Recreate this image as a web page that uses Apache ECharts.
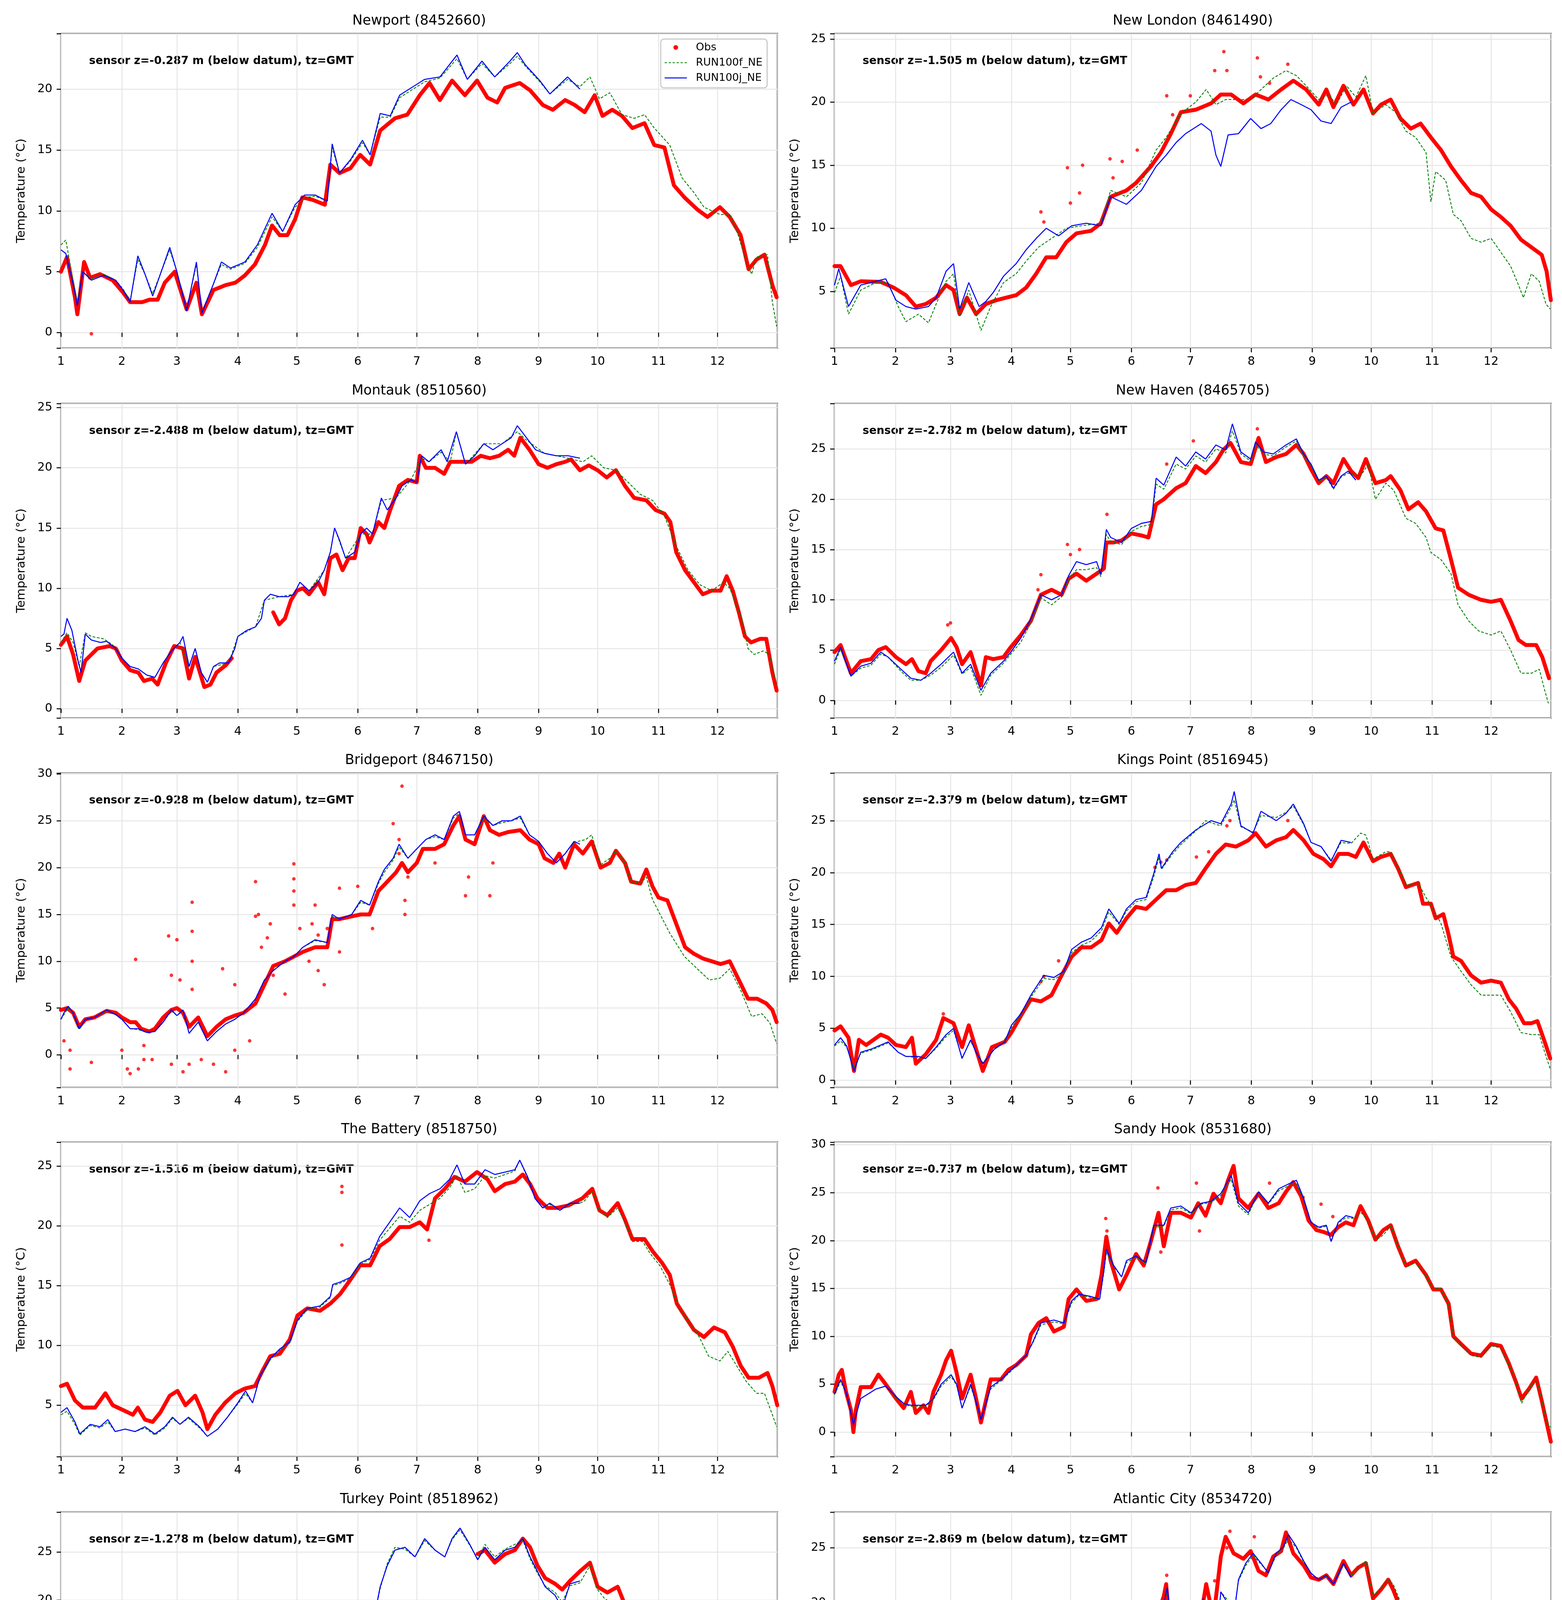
<!DOCTYPE html>
<html><head><meta charset="utf-8">
<script src="https://cdn.jsdelivr.net/npm/echarts@6/dist/echarts.min.js"></script>
<style>html,body{margin:0;padding:0;background:#fff}#chart{width:4000px;height:5000px}</style>
</head><body><div id="chart"></div>
<script>
// ---------------- text ----------------
const TITLES = ['Newport (8452660)','New London (8461490)','Montauk (8510560)','New Haven (8465705)','Bridgeport (8467150)','Kings Point (8516945)','The Battery (8518750)','Sandy Hook (8531680)','Turkey Point (8518962)','Atlantic City (8534720)'];
const SENSOR_Z = ['-0.287','-1.505','-2.488','-2.782','-0.928','-2.379','-1.516','-0.737','-1.278','-2.869'];
const SERIES_NAMES = ['Obs','RUN100f_NE','RUN100j_NE'];
const X_LABEL = 'Month of 2017';
const Y_LABEL = 'Temperature (°C)';
// y-axis extents per panel [min, max]
const Y_MIN = [-1.27, 0.51, -0.77, -1.75, -3.48, -0.69, 0.70, -2.56, -3.5, -0.32];
const Y_MAX = [24.56, 25.43, 25.34, 29.52, 30.1, 29.58, 27.0, 30.27, 29.15, 28.24];

// ---------------- data: [month position (month + fraction of month), temperature °C] ----------------
const NEWPORT_OBS = [[1.0,5.0],[1.1,6.2],[1.23,2.9],[1.27,1.5],[1.38,5.8],[1.48,4.5],[1.64,4.8],[1.85,4.3],[2.02,3.3],[2.15,2.5],[2.37,2.5],[2.5,2.7],[2.65,2.7],[2.78,4.1],[2.96,5.0],[3.16,1.9],[3.32,4.1],[3.41,1.5],[3.6,3.5],[3.8,3.9],[3.96,4.1],[4.12,4.7],[4.29,5.6],[4.46,7.2],[4.58,8.8],[4.71,8.0],[4.84,8.0],[4.97,9.3],[5.09,11.1],[5.26,10.9],[5.46,10.5],[5.55,13.8],[5.7,13.1],[5.88,13.5],[6.04,14.6],[6.21,13.8],[6.38,16.6],[6.63,17.6],[6.84,17.9],[7.05,19.5],[7.21,20.5],[7.38,19.1],[7.58,20.7],[7.79,19.5],[7.99,20.7],[8.16,19.3],[8.32,18.9],[8.45,20.1],[8.69,20.5],[8.86,19.9],[9.07,18.7],[9.24,18.3],[9.45,19.1],[9.61,18.7],[9.78,18.1],[9.95,19.5],[10.08,17.8],[10.24,18.3],[10.4,17.8],[10.57,16.8],[10.77,17.2],[10.93,15.4],[11.1,15.2],[11.26,12.1],[11.44,11.1],[11.66,10.1],[11.83,9.5],[12.04,10.3],[12.2,9.5],[12.38,8.0],[12.51,5.2],[12.64,6.0],[12.77,6.4],[12.9,3.9],[12.97,2.9]];
const NEWPORT_OBS_OUT = [[1.5,-0.1]];
const NEWPORT_F = [[1.0,7.2],[1.08,7.6],[1.2,4.3],[1.27,2.5],[1.36,5.0],[1.5,4.4],[1.7,4.8],[1.9,4.3],[2.02,3.6],[2.15,2.6],[2.29,6.0],[2.42,4.8],[2.56,3.2],[2.87,6.8],[3.0,5.0],[3.16,1.9],[3.32,5.6],[3.41,1.7],[3.6,4.0],[3.73,5.6],[3.88,5.2],[4.12,5.7],[4.33,7.0],[4.58,9.5],[4.76,8.3],[4.97,10.3],[5.13,11.1],[5.3,11.2],[5.5,10.8],[5.58,15.2],[5.7,13.1],[5.88,14.1],[6.08,15.6],[6.21,14.6],[6.38,17.7],[6.55,17.7],[6.71,19.3],[6.97,20.1],[7.13,20.6],[7.38,20.9],[7.66,22.5],[7.83,20.8],[8.07,22.1],[8.28,21.0],[8.53,22.1],[8.65,22.7],[8.78,21.9],[9.02,20.6],[9.19,19.6],[9.49,20.8],[9.7,20.2],[9.87,21.0],[10.03,19.2],[10.2,19.7],[10.4,17.9],[10.6,17.6],[10.77,17.9],[10.93,16.8],[11.19,15.4],[11.4,12.7],[11.6,11.5],[11.77,10.3],[12.04,9.7],[12.2,9.7],[12.34,8.0],[12.47,5.8],[12.56,4.8],[12.64,6.2],[12.82,6.4],[12.9,2.5],[12.97,0.5]];
const NEWPORT_J = [[1.0,6.8],[1.08,6.5],[1.2,4.0],[1.27,2.2],[1.36,5.0],[1.5,4.3],[1.7,4.7],[1.9,4.3],[2.02,3.5],[2.15,2.5],[2.29,6.3],[2.42,4.8],[2.56,3.0],[2.87,7.0],[3.0,5.0],[3.16,1.8],[3.32,5.8],[3.41,1.6],[3.6,4.0],[3.73,5.8],[3.88,5.3],[4.12,5.8],[4.33,7.2],[4.58,9.8],[4.76,8.3],[4.97,10.5],[5.13,11.3],[5.3,11.3],[5.5,10.8],[5.58,15.5],[5.7,13.1],[5.88,14.2],[6.08,15.8],[6.21,14.6],[6.38,18.0],[6.55,17.8],[6.71,19.5],[6.97,20.3],[7.13,20.8],[7.38,21.0],[7.66,22.8],[7.83,20.8],[8.07,22.3],[8.28,21.0],[8.53,22.3],[8.65,23.0],[8.78,22.0],[9.02,20.7],[9.19,19.6],[9.49,21.0],[9.7,20.0]];

const NEWLONDON_OBS = [[1.0,7.0],[1.1,7.0],[1.27,5.5],[1.43,5.8],[1.76,5.75],[1.97,5.3],[2.19,4.7],[2.37,3.8],[2.55,4.0],[2.74,4.5],[2.92,5.5],[3.05,5.1],[3.15,3.2],[3.27,4.5],[3.42,3.2],[3.58,4.0],[3.75,4.3],[3.91,4.5],[4.08,4.7],[4.25,5.3],[4.42,6.4],[4.59,7.7],[4.76,7.7],[4.93,8.9],[5.1,9.6],[5.34,9.8],[5.5,10.4],[5.66,12.5],[5.92,13.0],[6.08,13.6],[6.33,14.9],[6.5,16.0],[6.67,17.5],[6.84,19.2],[7.09,19.4],[7.34,19.9],[7.5,20.6],[7.67,20.6],[7.87,19.9],[8.07,20.6],[8.28,20.2],[8.49,21.0],[8.69,21.7],[8.9,21.0],[9.11,19.8],[9.24,21.0],[9.36,19.6],[9.53,21.3],[9.7,19.8],[9.87,21.0],[10.03,19.1],[10.16,19.8],[10.32,20.2],[10.48,18.7],[10.65,17.9],[10.81,18.3],[10.98,17.2],[11.15,16.2],[11.32,14.9],[11.49,13.8],[11.66,12.8],[11.83,12.5],[12.0,11.5],[12.16,10.9],[12.32,10.2],[12.49,9.1],[12.66,8.5],[12.83,7.9],[12.91,6.6],[12.98,4.3]];
const NEWLONDON_OBS_OUT = [[4.5,11.3],[4.55,10.5],[4.95,14.8],[5.0,12.0],[5.2,15.0],[5.15,12.8],[5.65,15.5],[5.7,14.0],[5.85,15.3],[6.1,16.2],[6.6,20.5],[6.7,19.0],[7.0,20.5],[7.4,22.5],[7.55,24.0],[7.6,22.5],[8.1,23.5],[8.15,22.0],[8.3,21.5],[8.6,23.0]];
const NEWLONDON_F = [[1.0,4.9],[1.1,6.2],[1.23,3.2],[1.43,5.1],[1.68,5.7],[1.88,5.7],[2.05,3.8],[2.19,2.6],[2.42,3.2],[2.6,2.5],[2.74,4.0],[2.92,5.8],[3.05,6.4],[3.15,3.0],[3.3,5.1],[3.5,1.9],[3.66,3.8],[3.87,5.7],[4.08,6.4],[4.25,7.4],[4.46,8.5],[4.68,9.2],[4.93,10.0],[5.18,10.2],[5.5,10.4],[5.66,13.0],[5.92,12.5],[6.17,13.6],[6.42,16.2],[6.59,17.2],[6.84,19.1],[7.09,20.0],[7.26,21.0],[7.42,19.8],[7.58,20.2],[7.83,20.2],[7.99,20.2],[8.16,21.0],[8.36,21.9],[8.57,22.5],[8.74,22.1],[8.9,21.3],[9.11,20.2],[9.28,20.6],[9.41,19.8],[9.58,21.3],[9.74,20.4],[9.91,22.1],[10.03,19.1],[10.24,19.8],[10.4,19.2],[10.57,17.7],[10.73,17.2],[10.9,16.0],[10.98,12.1],[11.06,14.5],[11.23,13.8],[11.36,11.1],[11.49,10.6],[11.66,9.2],[11.83,8.9],[12.0,9.2],[12.16,8.1],[12.32,7.0],[12.45,5.5],[12.53,4.5],[12.66,6.4],[12.79,5.8],[12.9,4.0],[12.97,3.6]];
const NEWLONDON_J = [[1.0,5.5],[1.07,6.8],[1.23,3.8],[1.43,5.5],[1.68,5.8],[1.84,6.0],[2.01,4.3],[2.19,3.8],[2.37,3.6],[2.6,3.8],[2.74,4.5],[2.92,6.6],[3.05,7.2],[3.15,3.6],[3.3,5.7],[3.47,3.8],[3.58,4.2],[3.7,4.9],[3.87,6.2],[4.08,7.2],[4.25,8.3],[4.42,9.2],[4.59,10.0],[4.8,9.4],[5.02,10.2],[5.26,10.4],[5.5,10.2],[5.66,12.5],[5.92,11.9],[6.17,13.0],[6.42,14.9],[6.59,15.8],[6.76,16.8],[6.92,17.5],[7.18,18.3],[7.34,17.7],[7.42,15.8],[7.5,14.9],[7.62,17.4],[7.79,17.5],[7.99,18.7],[8.16,17.9],[8.32,18.3],[8.49,19.4],[8.65,20.2],[8.82,19.8],[8.98,19.4],[9.15,18.5],[9.32,18.3],[9.49,19.6],[9.66,20.0]];

const MONTAUK_OBS = [[1.0,5.3],[1.1,6.0],[1.2,4.5],[1.3,2.3],[1.4,4.0],[1.5,4.5],[1.6,5.0],[1.8,5.2],[1.9,5.0],[2.0,4.0],[2.15,3.2],[2.3,3.0],[2.4,2.3],[2.55,2.5],[2.65,2.0],[2.8,3.8],[2.95,5.2],[3.1,5.0],[3.2,2.5],[3.3,4.3],[3.45,1.8],[3.55,2.0],[3.65,3.0],[3.8,3.6],[3.9,4.2],[4.25,null],[4.6,8.0],[4.7,7.0],[4.8,7.5],[4.9,9.0],[5.0,9.8],[5.1,10.0],[5.2,9.5],[5.35,10.5],[5.45,9.5],[5.55,12.5],[5.65,12.8],[5.75,11.5],[5.85,12.5],[5.95,12.5],[6.05,15.0],[6.15,14.5],[6.2,13.8],[6.35,15.5],[6.45,15.0],[6.55,16.5],[6.7,18.5],[6.85,19.0],[7.0,18.8],[7.05,21.0],[7.15,20.0],[7.3,20.0],[7.45,19.5],[7.55,20.5],[7.7,20.5],[7.9,20.5],[8.05,21.0],[8.2,20.8],[8.35,21.0],[8.5,21.5],[8.6,21.0],[8.7,22.5],[8.85,21.5],[9.0,20.3],[9.15,20.0],[9.3,20.3],[9.45,20.5],[9.55,20.7],[9.7,19.8],[9.85,20.2],[10.0,19.8],[10.15,19.2],[10.3,19.8],[10.45,18.5],[10.6,17.5],[10.8,17.3],[10.95,16.5],[11.1,16.2],[11.2,15.5],[11.3,13.0],[11.45,11.5],[11.6,10.5],[11.75,9.5],[11.9,9.8],[12.05,9.8],[12.15,11.0],[12.25,9.8],[12.35,8.0],[12.45,6.0],[12.55,5.5],[12.7,5.8],[12.8,5.8],[12.9,3.0],[12.97,1.5]];
const MONTAUK_F = [[1.0,5.5],[1.1,6.3],[1.2,5.5],[1.3,3.5],[1.4,6.3],[1.5,6.0],[1.7,5.8],[1.85,5.3],[2.0,4.2],[2.15,3.5],[2.3,3.3],[2.45,2.8],[2.6,2.6],[2.75,3.8],[2.9,4.8],[3.05,5.5],[3.2,3.5],[3.3,5.0],[3.4,3.0],[3.5,2.2],[3.6,3.5],[3.85,3.8],[4.0,6.0],[4.3,6.8],[4.45,9.0],[4.7,9.3],[4.95,9.5],[5.05,10.5],[5.2,9.8],[5.45,11.5],[5.55,13.0],[5.62,15.0],[5.8,12.5],[6.05,14.5],[6.25,14.5],[6.4,17.3],[6.65,17.5],[6.9,19.0],[7.08,20.8],[7.2,20.5],[7.4,21.3],[7.55,20.5],[7.65,23.0],[7.8,20.3],[8.1,22.0],[8.4,22.0],[8.65,23.0],[8.8,22.3],[9.1,21.2],[9.5,20.8],[9.75,20.5],[9.9,21.0],[10.1,20.0],[10.3,19.8],[10.5,18.8],[10.7,17.8],[10.9,17.3],[11.1,16.0],[11.3,13.5],[11.5,11.5],[11.7,10.3],[11.9,9.8],[12.1,10.5],[12.2,10.0],[12.4,7.5],[12.5,5.0],[12.6,4.5],[12.75,4.8],[12.85,4.5],[12.97,2.0]];
const MONTAUK_J = [[1.0,6.0],[1.05,6.2],[1.1,7.5],[1.18,6.5],[1.28,4.0],[1.33,3.0],[1.4,6.2],[1.5,5.7],[1.65,5.5],[1.75,5.6],[1.9,5.0],[2.0,4.2],[2.15,3.5],[2.3,3.3],[2.45,2.8],[2.6,2.6],[2.75,3.8],[2.9,4.8],[3.05,5.5],[3.1,6.0],[3.2,3.5],[3.3,5.0],[3.4,3.0],[3.5,2.2],[3.6,3.5],[3.7,3.8],[3.85,3.8],[3.95,5.0],[4.0,6.0],[4.15,6.5],[4.3,6.8],[4.4,7.5],[4.45,9.0],[4.55,9.5],[4.7,9.3],[4.85,9.3],[4.95,9.5],[5.05,10.5],[5.2,9.8],[5.35,10.5],[5.45,11.5],[5.55,13.0],[5.62,15.0],[5.7,14.0],[5.8,12.5],[5.95,13.0],[6.05,14.5],[6.15,15.0],[6.25,14.5],[6.4,17.5],[6.5,16.5],[6.65,17.5],[6.75,18.5],[6.9,19.0],[7.0,18.8],[7.08,21.0],[7.2,20.5],[7.4,21.5],[7.5,20.5],[7.65,23.0],[7.8,20.3],[7.95,21.0],[8.1,22.0],[8.25,21.5],[8.4,22.0],[8.55,22.5],[8.65,23.5],[8.8,22.5],[8.95,21.5],[9.1,21.2],[9.3,21.0],[9.5,21.0],[9.7,20.8]];

const NEWHAVEN_OBS = [[1.0,4.8],[1.1,5.5],[1.27,2.7],[1.43,3.9],[1.6,4.1],[1.72,5.0],[1.84,5.3],[2.01,4.3],[2.19,3.6],[2.3,4.1],[2.42,2.9],[2.55,2.7],[2.64,3.9],[2.83,5.0],[3.01,6.2],[3.1,5.3],[3.19,3.6],[3.33,4.8],[3.5,1.5],[3.58,4.3],[3.7,4.1],[3.87,4.3],[3.99,5.3],[4.16,6.5],[4.33,7.9],[4.5,10.5],[4.68,11.0],[4.85,10.5],[4.97,12.1],[5.1,12.6],[5.26,11.9],[5.43,12.6],[5.55,13.1],[5.59,15.7],[5.71,15.7],[5.84,15.9],[6.0,16.6],[6.17,16.4],[6.29,16.2],[6.42,19.5],[6.55,20.0],[6.76,21.1],[6.92,21.6],[7.09,23.3],[7.25,22.6],[7.42,23.7],[7.54,24.9],[7.66,25.6],[7.83,23.7],[7.99,23.5],[8.12,26.1],[8.24,23.7],[8.41,24.2],[8.57,24.5],[8.74,25.4],[8.86,24.5],[8.98,23.0],[9.11,21.6],[9.24,22.3],[9.36,21.6],[9.53,24.0],[9.66,22.8],[9.78,22.1],[9.91,24.0],[10.07,21.6],[10.24,21.9],[10.32,22.3],[10.48,20.9],[10.61,19.0],[10.77,19.7],[10.9,18.8],[11.06,17.1],[11.19,16.9],[11.32,14.0],[11.44,11.2],[11.62,10.5],[11.83,10.0],[12.0,9.8],[12.16,10.0],[12.32,7.9],[12.45,6.0],[12.57,5.5],[12.74,5.5],[12.84,4.3],[12.95,2.2]];
const NEWHAVEN_OBS_OUT = [[4.5,12.5],[4.45,11.0],[4.95,15.5],[5.0,14.5],[5.15,15.0],[5.6,18.5],[6.6,23.5],[7.05,25.8],[8.1,27.0],[3.0,7.7],[2.95,7.5]];
const NEWHAVEN_F = [[1.0,3.6],[1.1,5.1],[1.27,2.4],[1.43,3.2],[1.6,3.5],[1.76,4.6],[1.88,4.3],[2.1,2.9],[2.28,2.0],[2.46,2.0],[2.64,2.5],[2.83,3.3],[3.05,4.5],[3.19,2.6],[3.33,3.3],[3.5,0.5],[3.66,2.5],[3.87,3.7],[3.99,4.6],[4.16,5.8],[4.33,7.7],[4.5,10.2],[4.68,9.5],[4.85,10.3],[4.97,12.0],[5.1,13.0],[5.26,13.0],[5.43,13.2],[5.5,12.3],[5.59,16.5],[5.66,15.8],[5.84,15.5],[6.0,16.8],[6.17,17.3],[6.34,17.5],[6.42,21.5],[6.55,21.0],[6.76,23.5],[6.92,23.0],[7.09,24.3],[7.25,23.7],[7.42,25.0],[7.58,24.6],[7.69,26.8],[7.83,24.5],[7.99,23.8],[8.07,25.5],[8.2,24.5],[8.36,24.3],[8.57,25.2],[8.74,25.8],[8.86,24.3],[8.98,23.3],[9.11,21.8],[9.24,22.2],[9.36,21.0],[9.49,22.2],[9.61,22.6],[9.82,22.3],[9.95,23.5],[10.07,20.0],[10.24,21.6],[10.37,20.9],[10.57,18.1],[10.73,17.6],[10.9,16.2],[10.98,14.7],[11.15,14.0],[11.32,12.6],[11.44,9.5],[11.62,7.9],[11.79,6.9],[12.0,6.5],[12.16,6.9],[12.32,5.0],[12.49,2.7],[12.66,2.7],[12.79,3.1],[12.88,1.0],[12.94,-0.3]];
const NEWHAVEN_J = [[1.0,3.9],[1.1,5.3],[1.27,2.4],[1.43,3.4],[1.6,3.7],[1.76,4.8],[1.88,4.3],[2.1,3.1],[2.28,2.2],[2.46,2.0],[2.64,2.7],[2.83,3.6],[3.05,4.8],[3.19,2.7],[3.33,3.6],[3.5,1.0],[3.66,2.7],[3.87,3.9],[3.99,4.8],[4.16,6.2],[4.33,8.1],[4.5,10.5],[4.68,10.0],[4.85,10.5],[4.97,12.4],[5.1,13.8],[5.26,13.5],[5.43,13.8],[5.5,12.5],[5.59,17.0],[5.66,16.2],[5.84,15.7],[6.0,17.1],[6.17,17.6],[6.34,17.8],[6.42,22.1],[6.55,21.4],[6.76,24.2],[6.92,23.3],[7.09,24.7],[7.25,24.0],[7.42,25.4],[7.58,24.9],[7.69,27.5],[7.83,24.7],[7.99,24.0],[8.07,25.7],[8.2,24.7],[8.36,24.5],[8.57,25.4],[8.74,26.0],[8.86,24.5],[8.98,23.5],[9.11,21.9],[9.24,22.3],[9.36,21.1],[9.49,22.3],[9.61,22.8],[9.74,21.9]];

const BRIDGEPORT_OBS = [[1.0,4.8],[1.1,5.0],[1.2,4.5],[1.3,3.0],[1.4,3.8],[1.55,4.0],[1.75,4.7],[1.9,4.5],[2.0,4.0],[2.15,3.5],[2.25,3.5],[2.35,2.8],[2.5,2.5],[2.6,2.8],[2.75,4.0],[2.9,4.8],[3.0,5.0],[3.1,4.5],[3.2,3.0],[3.35,4.0],[3.5,2.0],[3.65,3.0],[3.8,3.8],[3.95,4.2],[4.1,4.5],[4.3,5.5],[4.45,7.5],[4.6,9.5],[4.8,10.0],[4.95,10.5],[5.1,11.0],[5.3,11.5],[5.5,11.5],[5.58,14.5],[5.7,14.5],[5.9,14.8],[6.05,15.0],[6.2,15.0],[6.35,17.5],[6.5,18.5],[6.65,19.5],[6.75,20.5],[6.85,19.5],[7.0,20.5],[7.1,22.0],[7.3,22.0],[7.45,22.5],[7.6,24.5],[7.7,25.5],[7.8,23.0],[7.95,22.5],[8.1,25.5],[8.2,24.0],[8.35,23.5],[8.5,23.8],[8.7,24.0],[8.85,23.0],[9.0,22.5],[9.1,21.0],[9.25,20.5],[9.35,21.5],[9.45,20.0],[9.6,22.5],[9.75,21.5],[9.9,22.8],[10.05,20.0],[10.2,20.5],[10.3,21.8],[10.45,20.5],[10.55,18.5],[10.7,18.3],[10.8,19.8],[10.9,18.0],[11.0,16.8],[11.15,16.5],[11.3,14.0],[11.45,11.5],[11.6,10.8],[11.75,10.3],[11.9,10.0],[12.05,9.7],[12.2,10.0],[12.35,8.0],[12.5,6.0],[12.65,6.0],[12.8,5.5],[12.9,4.8],[12.97,3.5]];
const BRIDGEPORT_OBS_OUT = [[1.05,1.5],[1.15,-1.5],[1.15,0.5],[1.5,-0.8],[2.0,0.5],[2.1,-1.5],[2.15,-2.0],[2.25,10.2],[2.3,-1.5],[2.4,-0.5],[2.4,1.0],[2.55,-0.5],[2.85,12.7],[2.9,8.5],[2.9,-1.0],[3.0,12.3],[3.05,8.0],[3.1,-1.8],[3.25,16.3],[3.25,13.2],[3.25,10.0],[3.25,7.0],[3.2,-1.0],[3.4,-0.5],[3.6,-1.0],[3.75,9.2],[3.8,-1.8],[3.95,0.5],[3.95,7.5],[4.2,1.5],[4.3,18.5],[4.3,14.8],[4.35,15.0],[4.4,11.5],[4.5,12.5],[4.55,14.0],[4.6,8.5],[4.8,6.5],[4.95,20.4],[4.95,18.8],[4.95,17.5],[4.95,16.0],[5.05,13.5],[5.25,14.0],[5.2,10.0],[5.3,16.0],[5.35,9.0],[5.35,12.8],[5.45,7.5],[5.5,13.5],[5.7,17.8],[5.7,11.0],[6.0,18.0],[6.25,13.5],[6.6,24.7],[6.7,23.0],[6.7,21.5],[6.75,28.7],[6.8,15.0],[6.8,16.5],[6.85,19.0],[7.3,20.5],[7.8,17.0],[7.85,19.0],[8.2,17.0],[8.25,20.5]];
const BRIDGEPORT_F = [[1.0,3.8],[1.12,5.0],[1.2,4.4],[1.3,2.7],[1.4,3.8],[1.55,4.0],[1.75,4.7],[1.9,4.3],[2.0,3.8],[2.15,2.8],[2.3,2.7],[2.45,2.4],[2.6,2.5],[2.75,3.5],[2.9,4.7],[3.0,4.2],[3.1,4.7],[3.2,2.3],[3.35,3.5],[3.5,1.5],[3.65,2.5],[3.8,3.3],[3.95,3.8],[4.1,4.5],[4.3,6.0],[4.45,8.0],[4.6,9.0],[4.8,10.0],[4.95,10.5],[5.1,11.5],[5.3,12.2],[5.5,12.0],[5.58,14.8],[5.7,14.5],[5.9,15.0],[6.05,16.3],[6.2,16.0],[6.35,18.3],[6.45,19.5],[6.6,20.8],[6.7,22.2],[6.85,21.0],[7.0,22.0],[7.15,23.0],[7.3,23.3],[7.45,23.0],[7.6,25.3],[7.7,25.8],[7.8,23.5],[7.95,23.5],[8.1,25.3],[8.25,24.5],[8.4,24.8],[8.55,25.0],[8.7,25.3],[8.85,23.5],[9.0,22.8],[9.15,21.5],[9.3,20.5],[9.45,21.5],[9.6,22.7],[9.8,23.0],[9.9,23.5],[10.05,20.3],[10.2,21.0],[10.3,21.8],[10.45,20.5],[10.55,18.5],[10.7,18.3],[10.8,19.0],[10.9,16.6],[11.19,13.0],[11.44,10.5],[11.69,9.0],[11.86,8.0],[12.04,8.2],[12.2,9.2],[12.38,6.9],[12.56,4.1],[12.73,4.4],[12.86,3.4],[12.97,1.2]];
const BRIDGEPORT_J = [[1.0,3.8],[1.05,4.5],[1.12,5.2],[1.2,4.5],[1.3,2.8],[1.4,3.8],[1.55,4.0],[1.75,4.8],[1.9,4.3],[2.0,3.8],[2.15,2.8],[2.3,2.8],[2.45,2.4],[2.6,2.5],[2.75,3.5],[2.9,4.8],[3.0,4.2],[3.1,4.8],[3.2,2.3],[3.35,3.5],[3.5,1.5],[3.65,2.5],[3.8,3.3],[3.95,3.8],[4.1,4.5],[4.3,6.0],[4.45,8.0],[4.6,9.0],[4.8,10.0],[4.95,10.5],[5.1,11.5],[5.3,12.3],[5.5,12.0],[5.58,15.0],[5.7,14.5],[5.9,15.0],[6.05,16.5],[6.2,16.0],[6.35,18.5],[6.45,19.8],[6.6,21.0],[6.7,22.5],[6.85,21.0],[7.0,22.0],[7.15,23.0],[7.3,23.5],[7.45,23.0],[7.6,25.5],[7.7,26.0],[7.8,23.5],[7.95,23.5],[8.1,25.5],[8.25,24.5],[8.4,25.0],[8.55,25.0],[8.7,25.5],[8.85,23.5],[9.0,22.8],[9.15,21.5],[9.3,20.5],[9.45,21.5],[9.6,22.8],[9.7,22.5]];

const KINGS_OBS = [[1.0,4.8],[1.1,5.2],[1.23,4.1],[1.32,0.9],[1.4,3.9],[1.52,3.4],[1.64,3.9],[1.76,4.4],[1.88,4.1],[2.01,3.4],[2.19,3.2],[2.3,4.1],[2.37,1.6],[2.55,2.5],[2.74,3.9],[2.87,6.0],[3.05,5.5],[3.19,3.2],[3.3,5.3],[3.42,3.0],[3.53,0.9],[3.68,3.2],[3.89,3.7],[4.0,4.6],[4.16,6.2],[4.33,7.8],[4.5,7.6],[4.68,8.2],[4.85,10.1],[5.02,11.9],[5.18,12.8],[5.34,12.8],[5.51,13.5],[5.63,15.1],[5.76,14.2],[5.92,15.6],[6.08,16.7],[6.25,16.5],[6.42,17.4],[6.59,18.3],[6.76,18.3],[6.92,18.8],[7.09,19.0],[7.25,20.4],[7.42,21.8],[7.58,22.7],[7.75,22.5],[7.95,23.1],[8.07,23.8],[8.24,22.5],[8.41,23.1],[8.57,23.4],[8.69,24.1],[8.86,23.1],[9.02,21.8],[9.19,21.3],[9.32,20.6],[9.45,21.8],[9.61,21.8],[9.74,21.5],[9.87,22.9],[10.03,21.1],[10.16,21.5],[10.32,21.8],[10.44,20.4],[10.57,18.6],[10.77,19.0],[10.85,17.0],[10.98,17.0],[11.06,15.6],[11.19,16.0],[11.28,14.0],[11.36,11.9],[11.49,11.5],[11.66,10.1],[11.83,9.4],[12.0,9.6],[12.16,9.4],[12.29,7.8],[12.41,6.9],[12.54,5.5],[12.66,5.5],[12.76,5.7],[12.88,3.7],[12.97,2.1]];
const KINGS_OBS_OUT = [[6.4,20.5],[6.5,21.0],[6.6,21.2],[7.1,21.5],[7.3,22.0],[7.6,24.5],[7.65,25.0],[8.6,25.0],[4.5,9.5],[4.55,10.0],[4.8,11.5],[2.87,6.4]];
const KINGS_F = [[1.0,3.3],[1.1,3.8],[1.2,3.2],[1.32,1.2],[1.43,2.6],[1.6,2.9],[1.76,3.3],[1.88,3.6],[2.05,2.7],[2.19,2.3],[2.42,2.2],[2.55,2.1],[2.74,3.1],[2.92,4.2],[3.05,4.8],[3.19,2.2],[3.33,3.8],[3.42,2.7],[3.53,1.7],[3.72,3.0],[3.89,3.6],[4.0,5.1],[4.16,6.2],[4.33,8.0],[4.55,9.8],[4.72,9.7],[4.89,10.3],[5.02,12.3],[5.18,13.0],[5.34,13.4],[5.51,14.4],[5.63,16.2],[5.8,15.0],[5.92,16.3],[6.08,17.2],[6.25,17.4],[6.38,19.6],[6.47,21.5],[6.51,20.3],[6.7,21.8],[6.84,22.7],[7.09,24.0],[7.25,25.0],[7.34,24.8],[7.5,24.5],[7.67,26.3],[7.72,27.0],[7.83,24.4],[8.03,23.9],[8.16,25.5],[8.41,25.3],[8.57,25.8],[8.69,26.4],[8.86,24.6],[8.98,22.9],[9.15,22.5],[9.32,21.2],[9.49,22.9],[9.66,22.8],[9.82,23.8],[9.91,23.6],[10.03,21.3],[10.24,22.0],[10.32,22.0],[10.44,20.6],[10.57,18.8],[10.77,19.0],[10.9,17.6],[11.02,16.5],[11.15,15.1],[11.32,11.9],[11.49,10.5],[11.66,9.2],[11.83,8.2],[12.0,8.2],[12.16,8.2],[12.32,6.6],[12.49,4.6],[12.66,4.4],[12.79,4.4],[12.88,2.7],[12.97,1.1]];
const KINGS_J = [[1.0,3.4],[1.1,4.1],[1.2,3.3],[1.32,0.9],[1.43,2.7],[1.6,3.0],[1.76,3.4],[1.88,3.7],[2.05,2.7],[2.19,2.3],[2.42,2.3],[2.55,2.1],[2.74,3.2],[2.92,4.4],[3.05,5.0],[3.19,2.1],[3.33,3.9],[3.42,2.7],[3.53,1.6],[3.72,3.0],[3.89,3.7],[4.0,5.3],[4.16,6.4],[4.33,8.2],[4.55,10.1],[4.72,9.9],[4.89,10.5],[5.02,12.6],[5.18,13.3],[5.34,13.7],[5.51,14.7],[5.63,16.5],[5.8,15.1],[5.92,16.5],[6.08,17.4],[6.25,17.6],[6.38,19.9],[6.47,21.8],[6.51,20.4],[6.7,22.0],[6.84,22.9],[7.09,24.1],[7.34,25.0],[7.5,24.7],[7.67,26.6],[7.72,27.8],[7.83,24.5],[8.03,23.8],[8.16,25.9],[8.41,25.0],[8.57,25.7],[8.69,26.6],[8.86,24.7],[8.98,22.9],[9.15,22.5],[9.32,21.1],[9.49,23.1],[9.66,22.9]];

const BATTERY_OBS = [[1.0,6.6],[1.1,6.8],[1.23,5.4],[1.36,4.8],[1.56,4.8],[1.73,6.0],[1.85,5.0],[2.02,4.6],[2.2,4.2],[2.29,4.8],[2.42,3.8],[2.56,3.6],[2.7,4.4],[2.87,5.8],[3.01,6.2],[3.14,5.0],[3.3,5.8],[3.42,4.4],[3.5,3.0],[3.63,4.2],[3.79,5.2],[3.96,6.0],[4.12,6.4],[4.29,6.6],[4.42,7.9],[4.55,9.1],[4.71,9.3],[4.88,10.5],[5.01,12.5],[5.17,13.1],[5.38,12.9],[5.55,13.5],[5.71,14.3],[5.88,15.5],[6.04,16.7],[6.21,16.7],[6.37,18.3],[6.54,18.9],[6.71,19.9],[6.88,19.9],[7.05,20.3],[7.17,19.7],[7.3,22.3],[7.46,23.1],[7.62,24.1],[7.79,23.7],[7.99,24.5],[8.16,23.9],[8.28,22.9],[8.45,23.5],[8.61,23.7],[8.74,24.3],[8.86,23.5],[8.98,22.3],[9.15,21.5],[9.3,21.5],[9.5,21.7],[9.74,22.3],[9.91,23.1],[10.03,21.3],[10.16,20.9],[10.33,21.9],[10.45,20.5],[10.57,18.9],[10.77,18.9],[10.9,17.9],[11.06,16.9],[11.19,15.9],[11.31,13.5],[11.44,12.5],[11.6,11.3],[11.77,10.7],[11.94,11.5],[12.12,11.1],[12.25,9.9],[12.38,8.3],[12.51,7.3],[12.68,7.3],[12.82,7.7],[12.9,6.6],[12.98,5.0]];
const BATTERY_OBS_OUT = [[5.74,23.3],[5.74,22.8],[5.74,18.4],[7.2,18.8]];
const BATTERY_F = [[1.0,4.2],[1.1,4.5],[1.23,3.4],[1.31,2.5],[1.48,3.3],[1.64,3.1],[1.77,3.6],[1.89,2.8],[2.06,3.0],[2.24,2.8],[2.42,3.1],[2.6,2.5],[2.78,3.1],[2.92,3.9],[3.05,3.4],[3.19,3.9],[3.37,3.1],[3.5,2.4],[3.67,3.0],[3.83,4.0],[4.0,5.1],[4.13,6.0],[4.25,5.2],[4.38,7.4],[4.55,8.8],[4.71,9.6],[4.88,10.2],[5.01,12.0],[5.17,13.0],[5.38,13.2],[5.55,14.0],[5.59,15.0],[5.71,15.2],[5.88,15.6],[6.04,16.8],[6.21,17.2],[6.37,18.8],[6.54,19.8],[6.71,20.8],[6.88,20.3],[7.05,21.3],[7.21,21.8],[7.38,22.3],[7.54,23.2],[7.66,24.2],[7.79,22.8],[7.95,23.1],[8.12,24.2],[8.28,24.0],[8.45,24.3],[8.61,24.6],[8.69,25.5],[8.82,24.0],[8.94,22.3],[9.07,21.5],[9.19,21.8],[9.36,21.3],[9.53,21.8],[9.7,21.9],[9.78,22.1],[9.91,22.9],[10.03,21.3],[10.16,20.7],[10.33,21.5],[10.45,20.3],[10.57,18.7],[10.74,18.7],[10.86,17.7],[11.02,16.7],[11.19,15.1],[11.35,13.1],[11.52,11.9],[11.69,10.7],[11.85,9.1],[12.04,8.7],[12.17,9.5],[12.29,8.5],[12.47,7.0],[12.64,6.0],[12.77,6.0],[12.9,4.2],[12.97,3.2]];
const BATTERY_J = [[1.0,4.4],[1.1,4.8],[1.23,3.6],[1.31,2.6],[1.48,3.4],[1.64,3.2],[1.77,3.8],[1.89,2.8],[2.06,3.0],[2.24,2.8],[2.42,3.2],[2.6,2.6],[2.78,3.2],[2.92,4.0],[3.05,3.4],[3.19,4.0],[3.37,3.2],[3.5,2.4],[3.67,3.0],[3.83,4.0],[4.0,5.2],[4.13,6.2],[4.25,5.2],[4.38,7.5],[4.55,8.9],[4.71,9.7],[4.88,10.3],[5.01,12.1],[5.17,13.1],[5.38,13.3],[5.55,14.1],[5.59,15.1],[5.71,15.3],[5.88,15.7],[6.04,16.9],[6.21,17.3],[6.37,19.1],[6.54,20.3],[6.71,21.5],[6.88,20.7],[7.05,22.1],[7.21,22.7],[7.38,23.1],[7.54,23.9],[7.66,25.1],[7.79,23.5],[7.95,23.5],[8.12,24.7],[8.28,24.3],[8.45,24.5],[8.61,24.7],[8.69,25.5],[8.82,24.1],[8.94,22.3],[9.07,21.5],[9.19,21.9],[9.36,21.3],[9.53,21.9],[9.7,21.9]];

const SANDY_OBS = [[1.0,4.2],[1.07,6.0],[1.12,6.5],[1.19,4.2],[1.27,2.3],[1.31,0.0],[1.35,2.3],[1.43,4.7],[1.6,4.7],[1.72,6.0],[1.84,5.0],[2.01,3.5],[2.15,2.5],[2.28,4.2],[2.37,2.0],[2.51,2.8],[2.6,2.0],[2.69,4.2],[2.83,6.0],[2.92,7.5],[3.01,8.5],[3.1,6.2],[3.19,3.5],[3.33,6.0],[3.42,3.5],[3.5,1.0],[3.66,5.5],[3.83,5.5],[3.95,6.5],[4.08,7.0],[4.25,8.0],[4.33,10.2],[4.46,11.4],[4.59,11.9],[4.72,10.5],[4.89,11.0],[4.97,13.9],[5.1,14.9],[5.26,13.7],[5.43,13.9],[5.51,16.4],[5.59,20.4],[5.66,17.9],[5.8,14.9],[5.92,16.4],[6.08,18.6],[6.21,17.4],[6.33,19.9],[6.46,22.9],[6.55,19.4],[6.67,22.9],[6.84,22.9],[7.01,22.4],[7.13,23.9],[7.25,22.6],[7.38,24.9],[7.5,23.9],[7.62,26.3],[7.71,27.8],[7.79,24.4],[7.95,23.4],[8.12,24.9],[8.28,23.4],[8.45,23.9],[8.57,25.1],[8.69,26.1],[8.82,24.6],[8.94,22.1],[9.07,21.1],[9.19,20.9],[9.32,20.6],[9.44,21.4],[9.57,21.9],[9.7,21.6],[9.82,23.6],[9.95,22.1],[10.07,20.1],[10.2,21.1],[10.32,21.6],[10.44,19.4],[10.57,17.4],[10.73,17.9],[10.9,16.4],[11.02,14.9],[11.15,14.9],[11.28,13.4],[11.36,10.0],[11.49,9.2],[11.66,8.2],[11.83,8.0],[12.0,9.2],[12.16,9.0],[12.29,7.2],[12.41,5.2],[12.5,3.5],[12.62,4.5],[12.74,5.7],[12.83,3.3],[12.91,1.0],[12.98,-1.0]];
const SANDY_OBS_OUT = [[5.58,22.3],[5.6,21.0],[6.45,25.5],[7.1,26.0],[8.3,26.0],[8.85,24.5],[9.15,23.8],[9.35,22.5],[6.5,18.8],[7.15,21.0]];
const SANDY_F = [[1.0,3.9],[1.1,5.3],[1.2,3.9],[1.31,0.9],[1.43,3.5],[1.68,4.5],[1.84,4.8],[2.01,3.6],[2.15,2.9],[2.28,2.7],[2.55,2.7],[2.69,3.4],[2.83,4.8],[3.01,5.8],[3.1,4.9],[3.19,2.5],[3.33,4.8],[3.46,2.3],[3.5,1.4],[3.66,4.5],[3.83,5.4],[4.0,6.4],[4.25,8.0],[4.37,9.4],[4.5,11.2],[4.72,11.5],[4.89,11.3],[5.02,13.5],[5.14,14.3],[5.31,14.1],[5.48,13.8],[5.55,16.7],[5.59,18.8],[5.71,17.3],[5.84,16.2],[5.92,17.7],[6.08,18.3],[6.25,17.6],[6.38,21.4],[6.55,21.5],[6.67,23.2],[6.84,23.4],[7.01,22.8],[7.18,23.8],[7.34,24.0],[7.5,24.7],[7.67,26.4],[7.79,23.6],[7.95,22.7],[8.12,25.0],[8.28,23.8],[8.45,25.2],[8.61,25.7],[8.74,26.0],[8.86,24.2],[8.98,21.9],[9.11,21.3],[9.24,21.5],[9.32,20.0],[9.44,21.8],[9.57,22.4],[9.7,22.3],[9.82,23.0],[9.95,22.0],[10.07,20.0],[10.2,20.6],[10.32,21.5],[10.44,19.5],[10.57,17.2],[10.73,17.7],[10.9,16.3],[11.02,15.0],[11.15,15.0],[11.28,13.2],[11.36,10.0],[11.49,9.0],[11.66,8.0],[11.83,7.8],[12.0,9.0],[12.16,8.8],[12.29,7.0],[12.41,5.2],[12.5,3.0],[12.62,4.5],[12.74,5.5],[12.83,3.5],[12.91,1.0],[12.98,0.5]];
const SANDY_J = [[1.0,4.0],[1.1,5.5],[1.2,4.0],[1.31,0.8],[1.43,3.5],[1.68,4.5],[1.84,4.8],[2.01,3.7],[2.15,3.0],[2.28,2.8],[2.55,2.8],[2.69,3.5],[2.83,5.0],[3.01,6.0],[3.1,5.0],[3.19,2.5],[3.33,5.0],[3.46,2.3],[3.5,1.3],[3.66,4.7],[3.83,5.5],[4.0,6.5],[4.25,8.0],[4.37,9.5],[4.5,11.4],[4.72,11.7],[4.89,11.4],[5.02,13.7],[5.14,14.4],[5.31,14.2],[5.48,13.9],[5.55,16.9],[5.59,19.1],[5.71,17.4],[5.84,16.2],[5.92,17.9],[6.08,18.4],[6.25,17.7],[6.38,21.6],[6.55,21.6],[6.67,23.4],[6.84,23.6],[7.01,22.9],[7.18,23.9],[7.34,24.1],[7.5,24.9],[7.67,26.8],[7.79,23.9],[7.95,22.9],[8.12,25.1],[8.28,23.9],[8.45,25.4],[8.61,25.9],[8.74,26.3],[8.86,24.4],[8.98,21.9],[9.11,21.4],[9.24,21.6],[9.32,19.9],[9.44,21.9],[9.57,22.6],[9.7,22.4]];

const TURKEY_OBS = [[8.0,24.8],[8.12,25.2],[8.28,23.9],[8.45,24.8],[8.61,25.2],[8.74,26.4],[8.86,25.5],[8.98,23.6],[9.11,22.3],[9.28,21.7],[9.4,21.1],[9.53,22.0],[9.7,23.0],[9.87,23.9],[10.0,21.4],[10.16,20.8],[10.33,21.4],[10.45,19.5],[10.57,18.0],[10.77,17.7],[10.93,15.8],[11.06,14.2],[11.19,12.0],[11.31,9.2],[11.4,7.7],[11.57,7.1],[11.69,6.1],[11.86,4.9],[12.04,4.6],[12.2,4.9],[12.33,3.6],[12.47,1.7],[12.56,1.1],[12.68,1.7],[12.81,1.1],[12.94,0.2],[12.98,0.0]];
const TURKEY_F = [[1.0,-1.3],[1.08,-1.0],[1.23,-1.8],[1.33,-1.9],[1.42,-1.2],[1.5,-0.9],[1.6,-0.5],[1.72,0.1],[1.89,1.3],[2.0,0.3],[2.1,-1.1],[2.2,-1.8],[2.35,-1.5],[2.5,-1.3],[2.65,-1.5],[2.8,-0.6],[2.9,1.5],[2.96,4.0],[3.04,3.4],[3.1,3.8],[3.19,0.8],[3.3,-0.2],[3.45,0.8],[3.6,-1.5],[3.75,-0.6],[3.9,2.0],[4.0,3.8],[4.17,7.3],[4.29,7.3],[4.38,10.0],[4.46,12.5],[4.63,13.6],[4.8,14.2],[4.92,16.0],[5.09,17.5],[5.26,15.3],[5.43,13.2],[5.55,15.8],[5.64,18.2],[5.8,20.0],[5.92,19.8],[6.0,18.9],[6.21,18.3],[6.29,18.6],[6.38,21.2],[6.5,23.8],[6.63,25.5],[6.8,25.3],[6.97,24.5],[7.13,26.2],[7.3,25.2],[7.46,24.5],[7.58,26.3],[7.71,27.3],[7.87,25.7],[8.0,24.3],[8.12,25.8],[8.28,24.5],[8.45,25.3],[8.61,25.8],[8.74,26.2],[8.86,24.3],[8.98,22.8],[9.11,21.5],[9.28,20.8],[9.4,19.8],[9.53,21.5],[9.7,21.8],[9.87,23.6],[10.0,21.1],[10.11,20.2],[10.28,19.5],[10.4,20.0],[10.53,17.0],[10.7,16.4],[10.85,15.8],[11.02,13.3],[11.19,10.8],[11.35,6.4],[11.49,4.9],[11.57,1.1],[11.69,0.5],[11.86,0.2],[12.04,-0.1],[12.2,0.0],[12.38,-1.1],[12.47,-1.8],[12.73,-1.7],[12.85,-1.5],[12.98,-1.9]];
const TURKEY_J = [[1.0,-1.2],[1.08,-0.9],[1.23,-1.8],[1.33,-1.9],[1.42,-1.3],[1.5,-1.2],[1.6,-0.9],[1.72,0.0],[1.89,1.3],[2.0,0.4],[2.1,-1.0],[2.2,-1.7],[2.35,-1.5],[2.5,-1.3],[2.65,-1.5],[2.8,-0.5],[2.9,1.5],[2.96,4.2],[3.04,3.5],[3.1,3.9],[3.19,0.8],[3.3,0.0],[3.45,0.5],[3.6,-1.4],[3.75,-0.5],[3.9,2.1],[4.0,3.9],[4.17,7.4],[4.29,7.4],[4.38,10.2],[4.46,12.7],[4.63,13.6],[4.8,13.9],[4.92,16.1],[5.09,17.7],[5.26,15.2],[5.43,13.3],[5.55,15.8],[5.64,18.0],[5.8,19.5],[5.92,19.9],[6.0,18.9],[6.21,18.3],[6.29,18.6],[6.38,21.4],[6.5,23.6],[6.63,25.2],[6.8,25.5],[6.97,24.5],[7.13,26.4],[7.3,25.2],[7.46,24.5],[7.58,26.4],[7.71,27.5],[7.87,25.8],[8.0,24.2],[8.12,25.5],[8.28,24.2],[8.45,25.2],[8.61,25.5],[8.74,26.4],[8.86,24.5],[8.98,23.0],[9.11,21.4],[9.28,20.5],[9.4,19.2],[9.53,21.7],[9.7,22.0]];

const ATLANTIC_OBS = [[1.0,5.7],[1.1,6.1],[1.19,4.8],[1.27,2.7],[1.31,1.1],[1.4,4.4],[1.52,4.8],[1.68,4.8],[1.76,6.3],[1.84,6.8],[1.97,5.5],[2.1,5.5],[2.24,4.8],[2.37,4.6],[2.51,4.4],[2.64,4.2],[2.78,5.5],[2.87,7.2],[3.05,7.8],[3.15,5.7],[3.28,7.0],[3.42,5.0],[3.54,3.5],[3.66,5.2],[3.83,5.9],[3.99,6.8],[4.08,8.1],[4.21,8.9],[4.33,9.3],[4.46,10.6],[4.59,11.7],[4.72,11.3],[4.85,11.7],[4.97,12.8],[5.1,13.9],[5.22,12.4],[5.34,13.7],[5.47,13.7],[5.59,14.7],[5.75,15.6],[5.92,16.0],[6.08,16.9],[6.25,17.3],[6.42,18.6],[6.55,20.6],[6.59,21.7],[6.67,16.7],[6.8,16.9],[6.92,17.3],[7.01,15.2],[7.13,17.3],[7.26,21.7],[7.38,18.6],[7.5,24.2],[7.58,26.0],[7.71,24.5],[7.87,24.0],[7.99,24.7],[8.12,22.9],[8.24,22.5],[8.36,24.2],[8.49,24.7],[8.57,26.4],[8.69,24.5],[8.86,23.4],[8.98,22.3],[9.11,22.1],[9.24,22.5],[9.36,21.7],[9.53,23.8],[9.66,22.5],[9.78,23.2],[9.91,23.6],[10.03,20.4],[10.16,21.2],[10.28,22.1],[10.36,21.2],[10.48,19.5],[10.61,18.4],[10.73,19.3],[10.9,17.8],[11.02,16.7],[11.15,16.0],[11.28,14.5],[11.36,12.2],[11.49,11.5],[11.66,10.4],[11.83,10.6],[12.0,10.2],[12.16,10.0],[12.29,8.7],[12.37,8.3],[12.46,5.9],[12.58,6.1],[12.71,5.9],[12.79,6.8],[12.88,4.0],[12.97,2.0]];
const ATLANTIC_OBS_OUT = [[5.22,10.2],[5.25,11.0],[6.6,22.5],[6.9,14.5],[7.05,14.8],[7.6,25.0],[7.65,26.5],[8.05,26.0],[4.5,11.5],[6.75,15.0],[7.4,22.0]];
const ATLANTIC_F = [[1.0,6.6],[1.1,7.0],[1.23,4.0],[1.31,3.0],[1.4,5.0],[1.6,4.8],[1.76,5.3],[1.88,5.7],[2.01,4.5],[2.15,3.8],[2.37,4.0],[2.51,3.8],[2.64,3.7],[2.83,5.0],[3.05,6.0],[3.17,4.2],[3.33,5.7],[3.54,3.3],[3.71,4.4],[3.87,4.8],[4.0,6.0],[4.16,7.6],[4.33,8.8],[4.5,10.0],[4.59,8.3],[4.72,11.0],[4.89,11.2],[5.02,12.4],[5.18,13.3],[5.34,12.8],[5.51,13.4],[5.63,14.5],[5.8,15.0],[5.96,15.9],[6.12,16.6],[6.29,16.9],[6.38,19.5],[6.5,18.6],[6.61,21.0],[6.71,16.6],[6.84,18.4],[6.97,19.2],[7.05,15.8],[7.13,17.8],[7.21,20.0],[7.34,18.8],[7.42,16.4],[7.5,21.0],[7.62,20.2],[7.71,19.0],[7.79,22.0],[7.91,23.4],[8.03,24.3],[8.16,23.5],[8.28,22.8],[8.41,24.3],[8.53,25.0],[8.61,25.8],[8.74,25.0],[8.86,23.7],[8.98,22.7],[9.11,22.1],[9.24,22.4],[9.36,21.7],[9.53,23.4],[9.66,22.4],[9.78,23.2],[9.91,23.8],[10.03,20.6],[10.16,21.4],[10.28,22.1],[10.36,21.7],[10.48,20.1],[10.61,18.6],[10.73,19.5],[10.9,18.2],[11.02,16.9],[11.15,16.3],[11.28,14.7],[11.36,12.2],[11.49,11.7],[11.66,11.3],[11.79,10.6],[11.88,14.7],[11.96,15.8],[12.04,14.1],[12.13,11.9],[12.21,12.4],[12.29,10.9],[12.37,10.9],[12.46,7.8],[12.58,7.8],[12.66,8.3],[12.74,8.9],[12.83,8.3],[12.91,5.2],[12.97,5.0]];
const ATLANTIC_J = [[1.0,6.8],[1.1,7.2],[1.23,4.0],[1.31,2.9],[1.4,5.0],[1.6,4.8],[1.76,5.2],[1.88,5.7],[2.01,4.6],[2.15,4.0],[2.37,4.0],[2.51,3.7],[2.64,3.7],[2.83,5.2],[3.05,6.3],[3.17,4.0],[3.33,5.9],[3.54,3.3],[3.71,4.4],[3.87,4.8],[4.0,6.1],[4.16,7.8],[4.33,8.9],[4.5,10.2],[4.59,8.3],[4.72,11.3],[4.89,11.3],[5.02,12.6],[5.18,13.5],[5.34,12.8],[5.51,13.5],[5.63,14.7],[5.8,15.0],[5.96,16.0],[6.12,16.7],[6.29,16.9],[6.38,19.9],[6.5,18.6],[6.61,21.4],[6.71,16.3],[6.84,18.6],[6.97,19.5],[7.05,15.6],[7.13,17.8],[7.21,20.4],[7.34,18.6],[7.42,16.0],[7.5,21.0],[7.62,19.9],[7.71,18.6],[7.79,22.1],[7.91,23.6],[8.03,24.5],[8.16,23.6],[8.28,22.7],[8.41,24.5],[8.53,25.1],[8.61,26.2],[8.74,25.1],[8.86,23.8],[8.98,22.7],[9.11,22.1],[9.24,22.5],[9.36,21.7],[9.53,23.6],[9.66,22.3]];

const OBS = [NEWPORT_OBS, NEWLONDON_OBS, MONTAUK_OBS, NEWHAVEN_OBS, BRIDGEPORT_OBS, KINGS_OBS, BATTERY_OBS, SANDY_OBS, TURKEY_OBS, ATLANTIC_OBS];
const OBS_OUT = [NEWPORT_OBS_OUT, NEWLONDON_OBS_OUT, [], NEWHAVEN_OBS_OUT, BRIDGEPORT_OBS_OUT, KINGS_OBS_OUT, BATTERY_OBS_OUT, SANDY_OBS_OUT, [], ATLANTIC_OBS_OUT];
const RUN_F = [NEWPORT_F, NEWLONDON_F, MONTAUK_F, NEWHAVEN_F, BRIDGEPORT_F, KINGS_F, BATTERY_F, SANDY_F, TURKEY_F, ATLANTIC_F];
const RUN_J = [NEWPORT_J, NEWLONDON_J, MONTAUK_J, NEWHAVEN_J, BRIDGEPORT_J, KINGS_J, BATTERY_J, SANDY_J, TURKEY_J, ATLANTIC_J];

// ---------------- layout / style ----------------
const FONT = 'DejaVu Sans';
const COL_LEFT = [156, 2137];
const ROW_TOP = [86, 1033, 1979, 2924, 3871];
const GRID_W = 1835, GRID_H = 805;
const RED = '#ff0000', GREEN = '#008000', BLUE = '#0000ff';
// legend icons: a dashed and a solid short line
const ICON_DASHED = 'path://M0,0h6v2.2h-6z M10,0h6v2.2h-6z M20,0h6v2.2h-6z M30,0h6v2.2h-6z M40,0h6v2.2h-6z M50,0h6v2.2h-6z';
const ICON_SOLID = 'path://M0,0h56v2.6h-56z';

// month position -> timestamp (UTC)
function mp2t(m) {
  const M = Math.floor(m), f = m - M;
  const s = Date.UTC(2017, M - 1, 1), e = Date.UTC(2017, M, 1);
  return s + f * (e - s);
}
const toXY = arr => arr.map(p => [mp2t(p[0]), p[1]]);

const grids = [], xAxes = [], yAxes = [], series = [], graphics = [];
for (let i = 0; i < 10; i++) {
  const col = i % 2, row = Math.floor(i / 2);
  const left = COL_LEFT[col], top = ROW_TOP[row];
  grids.push({ left: left, top: top, width: GRID_W, height: GRID_H, show: true, borderColor: '#000', borderWidth: 3, backgroundColor: 'transparent', containLabel: false });
  xAxes.push({
    gridIndex: i, type: 'time',
    min: Date.UTC(2017, 0, 1), max: Date.UTC(2017, 11, 31, 12),
    splitNumber: 12, minInterval: 28 * 86400000, maxInterval: 31 * 86400000,
    axisLine: { show: false },
    axisTick: { show: true, length: 11, lineStyle: { color: '#000', width: 2.5 } },
    axisLabel: {
      show: true, interval: 0, hideOverlap: false, margin: 20, fontSize: 30, color: '#000', fontFamily: FONT,
      formatter: function (v) { const d = new Date(v); return (d.getUTCDate() === 1 && d.getUTCHours() === 0) ? String(d.getUTCMonth() + 1) : ''; }
    },
    splitLine: { show: true, lineStyle: { color: '#e6e6e6', width: 2.5 } }
  });
  yAxes.push({
    gridIndex: i, type: 'value', min: Y_MIN[i], max: Y_MAX[i], minInterval: 5, maxInterval: 5,
    axisLine: { show: false },
    axisTick: { show: true, length: 11, lineStyle: { color: '#000', width: 2.5 } },
    axisLabel: {
      show: true, margin: 22, fontSize: 30, color: '#000', fontFamily: FONT, showMinLabel: true, showMaxLabel: true,
      formatter: function (v) { return Math.abs(v / 5 - Math.round(v / 5)) < 1e-6 ? String(Math.round(v)) : ''; }
    },
    splitLine: { show: true, lineStyle: { color: '#e6e6e6', width: 2.5 } },
    name: Y_LABEL, nameLocation: 'middle', nameGap: 86, nameRotate: 90,
    nameTextStyle: { fontSize: 31, color: '#000', fontFamily: FONT }
  });
  series.push({
    name: SERIES_NAMES[0], type: 'line', xAxisIndex: i, yAxisIndex: i, data: toXY(OBS[i]),
    symbol: 'none', showSymbol: false, connectNulls: false, z: 2,
    itemStyle: { color: RED }, lineStyle: { color: RED, width: 10, cap: 'round', join: 'round' }
  });
  if (OBS_OUT[i].length) {
    series.push({
      name: SERIES_NAMES[0], type: 'scatter', xAxisIndex: i, yAxisIndex: i, data: toXY(OBS_OUT[i]),
      symbol: 'circle', symbolSize: 9, z: 2, itemStyle: { color: RED }
    });
  }
  series.push({
    name: SERIES_NAMES[1], type: 'line', xAxisIndex: i, yAxisIndex: i, data: toXY(RUN_F[i]),
    symbol: 'none', showSymbol: false, z: 3, itemStyle: { color: GREEN }, lineStyle: { color: GREEN, width: 2.2, type: [7, 4] }
  });
  series.push({
    name: SERIES_NAMES[2], type: 'line', xAxisIndex: i, yAxisIndex: i, data: toXY(RUN_J[i]),
    symbol: 'none', showSymbol: false, z: 4, itemStyle: { color: BLUE }, lineStyle: { color: BLUE, width: 2.6 }
  });
  graphics.push({
    type: 'text', x: left + GRID_W / 2, y: top - 32,
    style: { text: TITLES[i], font: '35px "' + FONT + '"', fill: '#000', align: 'center', verticalAlign: 'middle', textAlign: 'center', textVerticalAlign: 'middle' }
  });
  graphics.push({
    type: 'text', x: left + 72, y: top + 71,
    style: { text: 'sensor z=' + SENSOR_Z[i] + ' m (below datum), tz=GMT', font: 'bold 28px "' + FONT + '"', fill: '#000', align: 'left', verticalAlign: 'middle', textAlign: 'left', textVerticalAlign: 'middle' }
  });
}
graphics.push({
  type: 'text', x: 2000, y: 4944,
  style: { text: X_LABEL, font: '38px "' + FONT + '"', fill: '#000', align: 'center', verticalAlign: 'middle', textAlign: 'center', textVerticalAlign: 'middle' }
});

const chart = echarts.init(document.getElementById('chart'), null, { renderer: 'canvas', width: 4000, height: 5000 });
chart.setOption({
  backgroundColor: '#ffffff',
  animation: false,
  useUTC: true,
  textStyle: { fontFamily: FONT },
  grid: grids, xAxis: xAxes, yAxis: yAxes, series: series, graphic: graphics,
  legend: {
    left: 1692, top: 100, orient: 'vertical',
    itemWidth: 57, itemHeight: 12, itemGap: 12, symbolKeepAspect: true,
    padding: [8, 12, 12, 10],
    borderColor: '#cccccc', borderWidth: 3, borderRadius: 8, backgroundColor: 'rgba(255,255,255,0.85)',
    textStyle: { fontSize: 27, color: '#000', fontFamily: FONT, padding: [0, 0, 0, 18] },
    data: [
      { name: SERIES_NAMES[0], icon: 'circle', itemStyle: { color: RED } },
      { name: SERIES_NAMES[1], icon: ICON_DASHED, itemStyle: { color: GREEN, borderWidth: 0 } },
      { name: SERIES_NAMES[2], icon: ICON_SOLID, itemStyle: { color: BLUE, borderWidth: 0 } }
    ]
  }
});
</script></body></html>
